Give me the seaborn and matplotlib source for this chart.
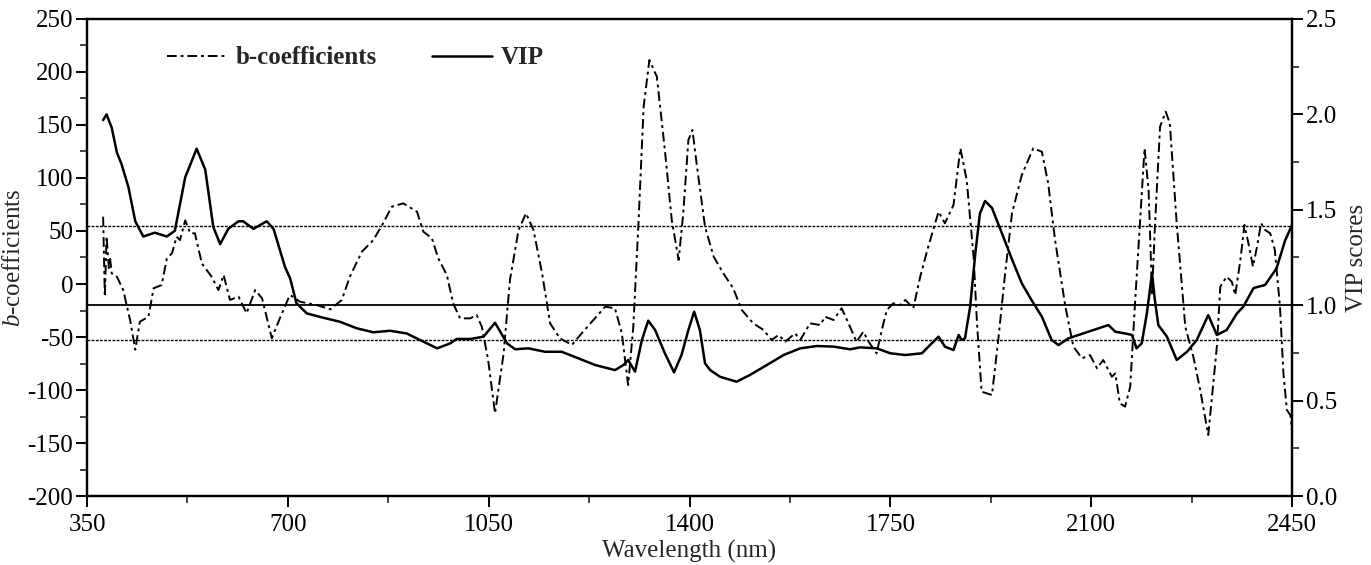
import matplotlib
matplotlib.use("Agg")
import matplotlib.pyplot as plt
from matplotlib.ticker import MultipleLocator
import pandas as pd
import seaborn as sns

# VIP scores (right axis)
vip_wl = [378, 384, 393, 402, 410, 422, 434, 448, 468, 489, 503, 521, 541, 556,
          570, 582, 596, 614, 622, 640, 663, 675, 695, 704, 715, 733, 762, 791,
          820, 849, 878, 907, 930, 960, 983, 994, 1018, 1041, 1061, 1082, 1096,
          1119, 1148, 1177, 1206, 1235, 1270, 1285, 1293, 1305, 1317, 1328, 1340,
          1357, 1373, 1386, 1398, 1408, 1418, 1427, 1436, 1453, 1482, 1505, 1535,
          1564, 1593, 1622, 1651, 1680, 1697, 1726, 1750, 1776, 1805, 1819, 1834,
          1845, 1860, 1869, 1874, 1880, 1889, 1898, 1906, 1915, 1927, 1944, 1962,
          1979, 1996, 2014, 2031, 2043, 2060, 2078, 2095, 2113, 2130, 2142, 2159,
          2171, 2179, 2188, 2197, 2206, 2211, 2217, 2232, 2249, 2267, 2284, 2304,
          2319, 2336, 2354, 2365, 2383, 2403, 2423, 2438, 2450]
vip = [1.97, 2.00, 1.93, 1.80, 1.74, 1.62, 1.44, 1.36, 1.38, 1.36, 1.39, 1.67,
       1.82, 1.71, 1.41, 1.32, 1.40, 1.44, 1.44, 1.40, 1.44, 1.40, 1.20, 1.14,
       1.01, 0.957, 0.934, 0.913, 0.879, 0.858, 0.866, 0.852, 0.818, 0.774, 0.80,
       0.823, 0.823, 0.835, 0.908, 0.80, 0.769, 0.774, 0.756, 0.756, 0.722, 0.687,
       0.66, 0.687, 0.713, 0.652, 0.818, 0.919, 0.87, 0.748, 0.648, 0.739, 0.87,
       0.966, 0.87, 0.695, 0.66, 0.625, 0.599, 0.634, 0.687, 0.739, 0.774, 0.786,
       0.783, 0.769, 0.779, 0.774, 0.748, 0.739, 0.748, 0.791, 0.835, 0.783,
       0.765, 0.844, 0.818, 0.826, 0.992, 1.27, 1.48, 1.546, 1.51, 1.38, 1.24,
       1.115, 1.027, 0.94, 0.818, 0.791, 0.826, 0.844, 0.861, 0.879, 0.896, 0.861,
       0.852, 0.844, 0.774, 0.80, 0.957, 1.167, 1.027, 0.896, 0.835, 0.713, 0.756,
       0.818, 0.948, 0.844, 0.87, 0.957, 0.992, 1.09, 1.106, 1.193, 1.34, 1.42]

# b-coefficients (left axis)
b_wl = [378, 381, 384, 388, 390, 393, 402, 413, 425, 434, 442, 457, 466, 480,
        489, 498, 506, 512, 521, 530, 538, 550, 567, 579, 588, 599, 614, 628,
        643, 655, 672, 686, 701, 704, 721, 750, 774, 794, 808, 829, 849, 866,
        881, 901, 925, 936, 951, 962, 977, 988, 1000, 1018, 1029, 1038, 1049,
        1061, 1076, 1087, 1102, 1115, 1128, 1143, 1157, 1174, 1195, 1212, 1230,
        1253, 1270, 1282, 1293, 1302, 1311, 1320, 1330, 1343, 1357, 1369, 1381,
        1389, 1398, 1405, 1413, 1424, 1427, 1442, 1459, 1476, 1491, 1511, 1529,
        1543, 1555, 1567, 1584, 1593, 1610, 1628, 1636, 1651, 1665, 1677, 1691,
        1703, 1712, 1726, 1735, 1744, 1755, 1767, 1776, 1790, 1802, 1816, 1834,
        1845, 1860, 1872, 1883, 1895, 1901, 1909, 1927, 1938, 1950, 1962, 1979,
        1999, 2014, 2025, 2037, 2055, 2069, 2084, 2098, 2110, 2121, 2136, 2142,
        2150, 2159, 2168, 2176, 2185, 2193, 2200, 2206, 2211, 2220, 2230, 2237,
        2249, 2264, 2278, 2290, 2304, 2319, 2325, 2336, 2345, 2351, 2360, 2367,
        2374, 2382, 2389, 2396, 2403, 2412, 2420, 2429, 2435, 2441, 2447, 2450]
b_coef = [63.5, -12, 45, 15, 25, 10, 6.9, -5.7, -34, -62, -35.6, -30.8, -4, -1,
          24, 29, 44.6, 41.5, 60, 47.8, 47.8, 19.5, 6.9, -5.7, 8.5, -15, -12,
          -27.6, -5.7, -13.5, -51.2, -32.4, -13.5, -10.4, -16.7, -19.8, -23.9,
          -15, 6.9, 30.5, 41.5, 57.3, 72.9, 76.1, 68.2, 49.4, 43.1, 24.3, 8.5,
          -18.2, -32.4, -32.4, -29.2, -40.3, -71.7, -122, -65.4, 3.8, 51, 66.7,
          51, 10.1, -37.1, -51.2, -57.5, -46.5, -35.5, -21.4, -22.9, -46.5, -95.3,
          -40.3, 57.3, 167.3, 211.3, 195.6, 126.4, 60.4, 22.6, 66.7, 135.8, 145.3,
          110.7, 66.7, 54, 25.8, 10, -4, -24.5, -37.1, -43.4, -52.8, -48.1, -54.4,
          -46.5, -52.8, -37.1, -38.7, -30.8, -34, -22.9, -37.1, -54.4, -45, -54.4,
          -65.4, -43.4, -24.5, -18.2, -19.8, -15, -22.9, 6.9, 35.2, 68.2, 57.3,
          74.5, 128, 98.1, 25.8, -37.1, -101.6, -104.7, -52.8, 10.1, 66.7, 102.8,
          128, 124.8, 95, 41.5, -21.4, -59.1, -70.1, -67, -79.5, -71.7, -87.5,
          -84.3, -112.6, -115.7, -96.9, -21.4, 57.3, 128, 88.7, -8.8, 54, 148.4,
          162.5, 151.6, 57.3, -40.3, -68.6, -100, -142.5, -59, -2.5, 6.9, 2.2,
          -10.4, 22.6, 55.7, 38.4, 16.4, 35.2, 57.3, 51, 47.8, 32.1, -21.4, -84.3,
          -118.9, -123.6, -138]

b_upper = 55
b_lower = -53
vip_cut = 1.0

vip_df = pd.DataFrame({"wavelength": vip_wl, "vip": vip})
b_df = pd.DataFrame({"wavelength": b_wl, "b": b_coef})

sns.set_style("ticks")
plt.rcParams["font.family"] = ["Liberation Serif", "DejaVu Serif"]
plt.rcParams["axes.unicode_minus"] = False
plt.rcParams["mathtext.fontset"] = "custom"
plt.rcParams["mathtext.it"] = "Liberation Serif:italic"
plt.rcParams["mathtext.rm"] = "Liberation Serif"

fs = 18

fig = plt.figure(figsize=(13.71, 5.65), dpi=100)
ax = fig.add_axes([0.0635, 0.1221, 0.8789, 0.8443])
ax2 = ax.twinx()

sns.lineplot(data=b_df, x="wavelength", y="b", ax=ax, color="black", lw=1.4,
             linestyle=(0, (5, 2, 1.5, 2)), label="b-coefficients", legend=False)
sns.lineplot(data=vip_df, x="wavelength", y="vip", ax=ax2, color="black", lw=1.8,
             label="VIP", legend=False)

ax.axhline(b_upper, color="black", lw=1.0, linestyle=(0, (2, 1)))
ax.axhline(b_lower, color="black", lw=1.0, linestyle=(0, (2, 1)))
ax2.axhline(vip_cut, color="black", lw=1.3)

ax.set_xlim(350, 2450)
ax.set_ylim(-200, 250)
ax2.set_ylim(0, 2.5)
ax.set_xticks([350, 700, 1050, 1400, 1750, 2100, 2450])
ax.xaxis.set_minor_locator(MultipleLocator(175))
ax.set_yticks(range(-200, 251, 50))
ax.yaxis.set_minor_locator(MultipleLocator(25))
ax2.set_yticks([0.0, 0.5, 1.0, 1.5, 2.0, 2.5])
ax2.set_yticklabels(["0.0", "0.5", "1.0", "1.5", "2.0", "2.5"])
ax2.yaxis.set_minor_locator(MultipleLocator(0.25))

for a in (ax, ax2):
    for s in a.spines.values():
        s.set_visible(True)
        s.set_linewidth(1.6)
        s.set_color("black")
    a.tick_params(which="major", direction="out", length=8, width=1.4,
                  labelsize=fs, colors="black", pad=2)
    a.tick_params(which="minor", direction="out", length=5, width=1.2)
ax.tick_params(axis="x", which="both", top=False, pad=5)

ax.set_xlabel("Wavelength (nm)", fontsize=fs, labelpad=3)
ax.set_ylabel(r"$\mathit{b}$-coefficients", fontsize=fs, labelpad=2)
ax2.set_ylabel("VIP scores", fontsize=fs, labelpad=6)

h1, l1 = ax.get_legend_handles_labels()
h2, l2 = ax2.get_legend_handles_labels()
ax.legend(h1 + h2, l1 + l2, loc="upper left", bbox_to_anchor=(0.048, 0.99),
          ncol=2, frameon=False, handlelength=2.4, handletextpad=0.35,
          columnspacing=2.2, prop={"family": "Liberation Serif", "weight": "bold", "size": 18})

fig.savefig("out.png", dpi=100)
